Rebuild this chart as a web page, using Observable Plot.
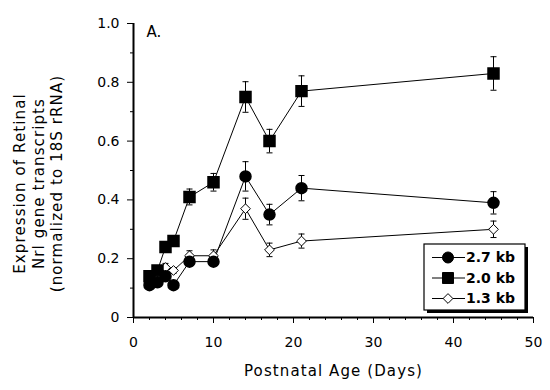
<!DOCTYPE html>
<html>
<head>
<meta charset="utf-8">
<script src="https://cdn.jsdelivr.net/npm/d3@7"></script>
<script src="https://cdn.jsdelivr.net/npm/@observablehq/plot@0.6"></script>
<style>
  html, body { margin: 0; padding: 0; background: white; }
  #wrap { position: relative; width: 550px; height: 390px; }
  #legend { position: absolute; left: 0; top: 0; }
</style>
</head>
<body>
<div id="wrap"></div>
<script>
// ---- data ----
const days = [2, 3, 4, 5, 7, 10, 14, 17, 21, 45];
const kb27 = [0.11, 0.12, 0.14, 0.11, 0.19, 0.19, 0.48, 0.35, 0.44, 0.39];
const kb27err = [0.01, 0.01, 0.01, 0.01, 0.015, 0.015, 0.05, 0.035, 0.043, 0.038];
const kb20 = [0.14, 0.16, 0.24, 0.26, 0.41, 0.46, 0.75, 0.60, 0.77, 0.83];
const kb20err = [0.015, 0.01, 0.015, 0.015, 0.027, 0.03, 0.052, 0.04, 0.052, 0.057];
const kb13 = [0.12, 0.12, 0.17, 0.16, 0.21, 0.21, 0.37, 0.23, 0.26, 0.30];
const kb13err = [0.01, 0.01, 0.014, 0.01, 0.017, 0.02, 0.036, 0.023, 0.024, 0.028];
const seriesNames = ["2.7 kb", "2.0 kb", "1.3 kb"];
const xTicks = [0, 10, 20, 30, 40, 50];
const xMinorTicks = [2, 4, 6, 8, 12, 14, 16, 18, 22, 24, 26, 28, 32, 34, 36, 38, 42, 44, 46, 48];
const yTicks = [0, 0.2, 0.4, 0.6, 0.8, 1.0];
const yMinorTicks = [0.1, 0.3, 0.5, 0.7, 0.9];
const xLabel = "Postnatal Age (Days)";
const yLabel = "Expression of Retinal\nNrl gene transcripts\n(normalized to 18S rRNA)";
const panelLabel = "A.";

// ---- build table ----
const valuesBySeries = [kb27, kb20, kb13];
const errBySeries = [kb27err, kb20err, kb13err];
const rows = [];
seriesNames.forEach((s, si) => {
  days.forEach((d, i) => {
    const v = valuesBySeries[si][i], e = errBySeries[si][i];
    rows.push({series: s, day: d, value: v, lo: v - e, hi: v + e});
  });
});
const byS = s => rows.filter(r => r.series === s);

const capSymbol = {
  draw(ctx, size) {
    const w = Math.sqrt(size) / 2;
    ctx.moveTo(-w, 0);
    ctx.lineTo(w, 0);
  }
};

const font = "'DejaVu Sans', sans-serif";

const chart = Plot.plot({
  width: 550,
  height: 390,
  marginLeft: 133,
  marginRight: 17,
  marginTop: 23,
  marginBottom: 73,
  x: {domain: [0, 50]},
  y: {domain: [0, 1]},
  style: {fontFamily: font, fontSize: "14px", color: "black", background: "white", overflow: "visible"},
  marks: [
    Plot.ruleY([0], {stroke: "black", strokeWidth: 2}),
    Plot.ruleX([0], {stroke: "black", strokeWidth: 2}),
    Plot.axisY({ticks: yTicks, tickSize: 6, tickPadding: 8, tickFormat: d => d === 0 ? "0" : d.toFixed(1), label: null, fontSize: 14}),
    Plot.axisY({ticks: yMinorTicks, tickSize: 3, tickFormat: () => "", label: null}),
    Plot.axisX({ticks: xTicks, tickSize: 6, tickPadding: 14, label: null, fontSize: 14}),
    Plot.axisX({ticks: xMinorTicks, tickSize: 3, tickFormat: () => "", label: null}),
    // lines
    ...seriesNames.map(s => Plot.line(byS(s), {x: "day", y: "value", stroke: "black", strokeWidth: 1})),
    // error bars
    Plot.ruleX(rows, {x: "day", y1: "lo", y2: "hi", stroke: "black", strokeWidth: 1}),
    Plot.dot(rows, {x: "day", y: "hi", symbol: capSymbol, r: 3.4, stroke: "black", strokeWidth: 1, fill: "none"}),
    Plot.dot(rows, {x: "day", y: "lo", symbol: capSymbol, r: 3.4, stroke: "black", strokeWidth: 1, fill: "none"}),
    // markers
    Plot.dot(byS("1.3 kb"), {x: "day", y: "value", symbol: "diamond2", r: 4.4, fill: "white", stroke: "black", strokeWidth: 1}),
    Plot.dot(byS("2.7 kb"), {x: "day", y: "value", symbol: "circle", r: 5.5, fill: "black", stroke: "black"}),
    Plot.dot(byS("2.0 kb"), {x: "day", y: "value", symbol: "square", r: 6.2, fill: "black", stroke: "black"}),
    // labels
    Plot.text([xLabel], {frameAnchor: "bottom", dy: 58, fontSize: 15}),
    Plot.text([yLabel], {frameAnchor: "left", textAnchor: "middle", lineAnchor: "middle", rotate: -90, dx: -96, dy: 13, lineHeight: 1.25, fontSize: 15}),
    Plot.text([panelLabel], {frameAnchor: "top-left", dx: 13, dy: 3, fontSize: 15, textAnchor: "start", lineAnchor: "top"})
  ]
});

// widen the axis titles to match the reference's wide bitmap face
d3.select(chart).selectAll("text").each(function () {
  const t = this.textContent;
  if (t === xLabel || yLabel.split("\n").some(l => t.includes(l))) {
    d3.select(this).style("letter-spacing", "1.1px");
  }
});

const wrap = document.getElementById("wrap");
wrap.appendChild(chart);

// ---- legend (overlay, built from seriesNames) ----
const legendSymbols = ["circle", "square", "diamond2"];
const legendFills = ["black", "black", "white"];
const lg = d3.select(wrap).append("svg")
  .attr("id", "legend")
  .attr("width", 550).attr("height", 390)
  .style("pointer-events", "none");
const bx = 424, by = 244, bw = 101, bh = 66;
lg.append("rect").attr("x", bx + 3).attr("y", by + 3).attr("width", bw).attr("height", bh).attr("fill", "black");
lg.append("rect").attr("x", bx).attr("y", by).attr("width", bw).attr("height", bh).attr("fill", "white").attr("stroke", "black").attr("stroke-width", 1.2);
const symSizes = [Math.PI * 5.5 * 5.5, Math.PI * 6.2 * 6.2, Math.PI * 4.4 * 4.4];
const symTypes = {circle: d3.symbolCircle, square: d3.symbolSquare, diamond2: d3.symbolDiamond2};
seriesNames.forEach((s, i) => {
  const yy = by + 13.5 + i * 20.5;
  lg.append("line").attr("x1", bx + 8).attr("x2", bx + 41).attr("y1", yy).attr("y2", yy).attr("stroke", "black");
  lg.append("path").attr("transform", `translate(${bx + 24},${yy})`)
    .attr("d", d3.symbol(symTypes[legendSymbols[i]], symSizes[i])())
    .attr("fill", legendFills[i]).attr("stroke", "black");
  lg.append("text").attr("x", bx + 42).attr("y", yy).attr("dy", "0.35em")
    .attr("font-family", font).attr("font-size", 14).attr("font-weight", "bold").text(s);
});
</script>
</body>
</html>
